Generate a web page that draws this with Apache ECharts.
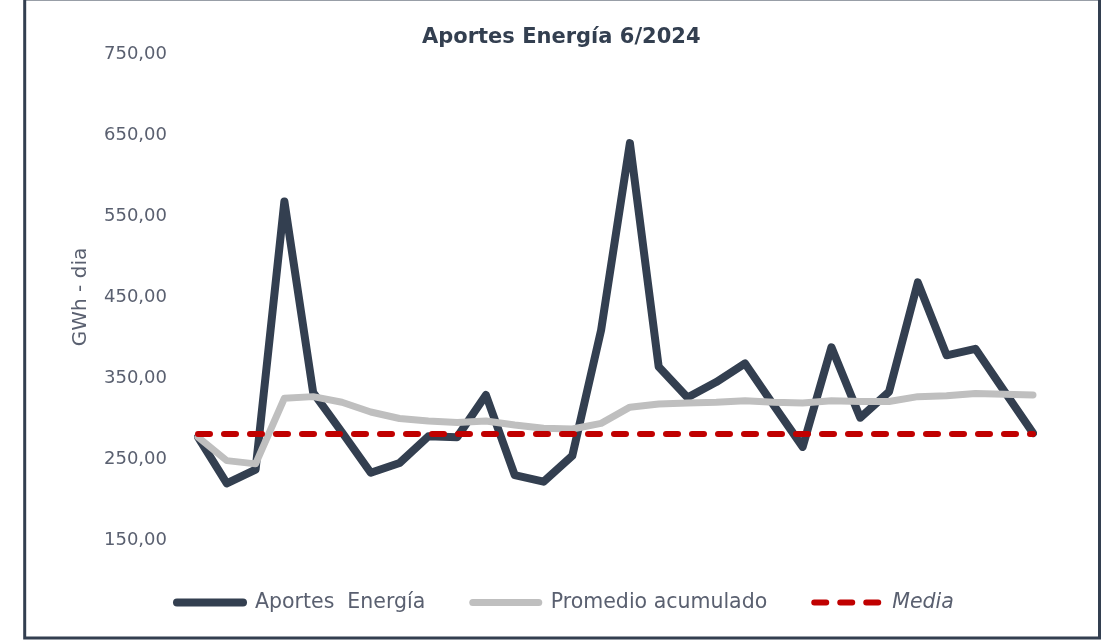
<!DOCTYPE html>
<html>
<head>
<meta charset="utf-8">
<script src="https://cdn.jsdelivr.net/npm/echarts@6/dist/echarts.min.js"></script>
<style>
  html, body { margin: 0; padding: 0; background: #fff; }
  #main { width: 1104px; height: 640px; }
</style>
</head>
<body>
<div id="main"></div>
<script>
// dias de junio 2024
var dias = ['1', '2', '3', '4', '5', '6', '7', '8', '9', '10',
    '11', '12', '13', '14', '15', '16', '17', '18', '19', '20',
    '21', '22', '23', '24', '25', '26', '27', '28', '29', '30'];

var aportes = [277, 220, 237, 568, 332, 283, 233, 245, 278, 277,
    329, 230, 222, 254, 409, 640, 364, 326, 345, 368,
    316, 265, 388, 301, 333, 468, 378, 386, 334, 282];

var promedio = [277, 248, 244, 325, 327, 320, 308, 300, 297, 295,
    297, 292, 288, 287, 294, 314, 318, 319, 320, 322,
    320, 319, 322, 321, 321, 327, 328, 331, 330, 329];

var media = [281, 281, 281, 281, 281, 281, 281, 281, 281, 281,
    281, 281, 281, 281, 281, 281, 281, 281, 281, 281,
    281, 281, 281, 281, 281, 281, 281, 281, 281, 281];

var ticksY = [150, 250, 350, 450, 550, 650, 750];

var fuente = 'DejaVu Sans';
var gris = '#5a6070';

var myChart = echarts.init(document.getElementById('main'));
var option = {
    backgroundColor: '#fff',
    animation: false,
    title: {
        text: 'Aportes Energía 6/2024',
        left: 417,
        top: 22,
        textStyle: {
            fontFamily: fuente,
            fontSize: 21,
            fontWeight: 'bold',
            color: '#333f50'
        }
    },
    legend: {
        left: 168,
        top: 587,
        itemWidth: 66,
        itemHeight: 20,
        itemGap: 44,
        itemStyle: { opacity: 0 },
        textStyle: { fontFamily: fuente, fontSize: 20.5, color: gris, padding: [0, 0, 0, 7] },
        data: [
            { name: 'Aportes  Energía', lineStyle: { width: 8, cap: 'round' } },
            { name: 'Promedio acumulado', lineStyle: { width: 7, cap: 'round' } },
            { name: 'Media', lineStyle: { width: 6, cap: 'round' }, textStyle: { fontStyle: 'italic' } }
        ]
    },
    grid: {
        left: 198,
        right: 71,
        top: 54,
        bottom: 100
    },
    xAxis: {
        type: 'category',
        data: dias,
        boundaryGap: false,
        show: false
    },
    yAxis: {
        type: 'value',
        min: ticksY[0],
        max: ticksY[ticksY.length - 1],
        interval: 100,
        name: 'GWh - dia',
        nameLocation: 'middle',
        nameGap: 107,
        nameTextStyle: { fontFamily: fuente, fontSize: 20, color: gris },
        axisLine: { show: false },
        axisTick: { show: false },
        splitLine: { show: false },
        axisLabel: {
            margin: 31,
            fontFamily: fuente,
            fontSize: 18,
            color: gris,
            formatter: function (v) { return v.toFixed(2).replace('.', ','); }
        }
    },
    series: [{
        name: 'Aportes  Energía',
        type: 'line',
        data: aportes,
        symbol: 'none',
        itemStyle: { color: '#333f50' },
        lineStyle: { color: '#333f50', width: 8, cap: 'round', join: 'round' }
    }, {
        name: 'Promedio acumulado',
        type: 'line',
        data: promedio,
        symbol: 'none',
        itemStyle: { color: '#bfbfbf' },
        lineStyle: { color: '#bfbfbf', width: 7, cap: 'round', join: 'round' }
    }, {
        name: 'Media',
        type: 'line',
        data: media,
        symbol: 'none',
        itemStyle: { color: '#c00000' },
        lineStyle: { color: '#c00000', width: 6, type: [12, 14], cap: 'round' }
    }],
    graphic: [{
        type: 'rect',
        silent: true,
        shape: { x: 24.7, y: -1, width: 1074.8, height: 639 },
        style: { fill: null, stroke: '#333f50', lineWidth: 3 }
    }]
};

myChart.setOption(option);
</script>
</body>
</html>
